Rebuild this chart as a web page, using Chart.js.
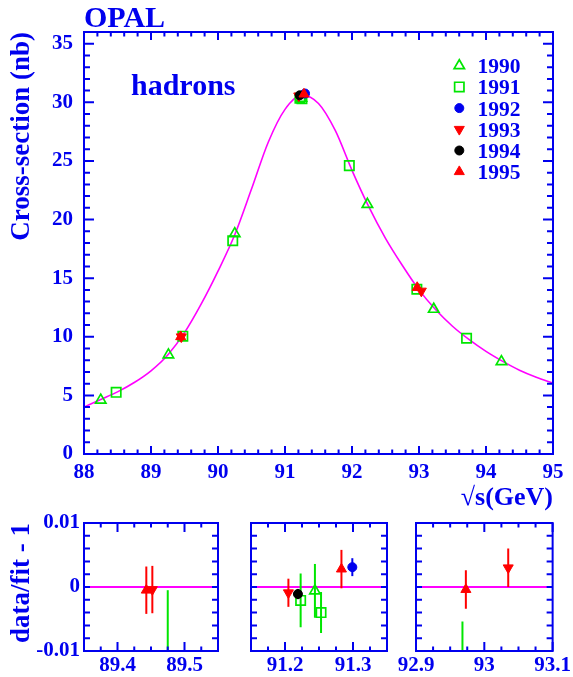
<!DOCTYPE html>
<html>
<head>
<meta charset="utf-8">
<script src="https://cdn.jsdelivr.net/npm/chart.js@4.4.0/dist/chart.umd.min.js"></script>
<style>
  html, body { margin: 0; padding: 0; background: #fff; }
  #wrap { position: relative; width: 573px; height: 677px; overflow: hidden; }
  canvas { position: absolute; }
</style>
</head>
<body>
<div id="wrap">
  <canvas id="main" width="573" height="515" style="left:0;top:0"></canvas>
  <canvas id="pull1" width="240" height="172" style="left:0;top:505px"></canvas>
  <canvas id="pull2" width="185" height="172" style="left:225px;top:505px"></canvas>
  <canvas id="pull3" width="183" height="172" style="left:390px;top:505px"></canvas>
</div>
<script>
const BLUE = 'rgb(0, 0, 238)'
const GREEN = 'rgb(0, 230, 0)'
const RED = 'rgb(255, 0, 0)'
const BLACK = 'rgb(0, 0, 0)'
const MAGENTA = 'rgb(255, 0, 255)'
const FONT = "'Liberation Serif', 'Times New Roman', serif"

const years = ['1990', '1991', '1992', '1993', '1994', '1995']

// sqrt(s) in GeV and hadronic cross-section in nb, one list per year
const energy1990 = [88.25, 89.26, 90.25, 91.244, 92.23, 93.22, 94.23]
const sigma1990 = [4.6, 8.45, 18.8, 30.35, 21.3, 12.35, 7.88]
const energy1991 = [88.48, 89.475, 90.22, 91.223, 91.253, 91.96, 92.968, 93.71]
const sigma1991 = [5.26, 10.05, 18.2, 30.35, 30.3, 24.6, 14.05, 9.87]
const energy1992 = [91.299]
const sigma1992 = [30.75]
const energy1993 = [89.452, 91.205, 93.035]
const sigma1993 = [10.0, 30.55, 13.9]
const energy1994 = [91.219]
const sigma1994 = [30.6]
const energy1995 = [89.443, 91.283, 92.973]
const sigma1995 = [10.0, 30.7, 14.2]

// data/fit - 1 and its error (null = not inside one of the lower windows)
const ratio1990 = [null, null, null, -0.0006, null, null, null]
const ratioErr1990 = [null, null, null, 0.0042, null, null, null]
const ratio1991 = [null, -0.0145, null, -0.0021, -0.004, null, -0.015, null]
const ratioErr1991 = [null, 0.014, null, 0.0042, 0.0032, null, 0.0096, null]
const ratio1992 = [0.0031]
const ratioErr1992 = [0.0014]
const ratio1993 = [-0.0004, -0.0009, 0.003]
const ratioErr1993 = [0.0037, 0.0022, 0.003]
const ratio1994 = [-0.0011]
const ratioErr1994 = [0.0008]
const ratio1995 = [-0.0005, 0.0028, -0.0004]
const ratioErr1995 = [0.0037, 0.003, 0.003]

// fitted line shape
const fitEnergy = [88.0, 88.25, 88.5, 88.75, 89.0, 89.25, 89.5, 89.75, 90.0, 90.25, 90.5, 90.75,
  91.0, 91.25, 91.5, 91.75, 92.0, 92.25, 92.5, 92.75, 93.0, 93.25, 93.5, 93.75, 94.0, 94.25,
  94.5, 94.75, 95.0]
const fitSigma = [4.0, 4.65, 5.3, 6.1, 7.1, 8.45, 10.35, 12.8, 15.6, 18.7, 22.6, 26.6,
  29.4, 30.6, 29.9, 27.6, 24.2, 21.1, 18.4, 16.1, 14.0, 12.3, 10.9, 9.75, 8.75, 7.9,
  7.15, 6.55, 6.05]

// energy windows of the three lower panels
const pullWindows = [[89.35, 89.55], [91.15, 91.35], [92.9, 93.1]]

const yearData = {
  '1990': { e: energy1990, s: sigma1990, r: ratio1990, err: ratioErr1990 },
  '1991': { e: energy1991, s: sigma1991, r: ratio1991, err: ratioErr1991 },
  '1992': { e: energy1992, s: sigma1992, r: ratio1992, err: ratioErr1992 },
  '1993': { e: energy1993, s: sigma1993, r: ratio1993, err: ratioErr1993 },
  '1994': { e: energy1994, s: sigma1994, r: ratio1994, err: ratioErr1994 },
  '1995': { e: energy1995, s: sigma1995, r: ratio1995, err: ratioErr1995 },
}

const marks = {
  '1990': { color: GREEN, style: 'triangle', rotation: 0, radius: 6, open: true },
  '1991': { color: GREEN, style: 'rect', rotation: 0, radius: 6.6, open: true },
  '1992': { color: BLUE, style: 'circle', rotation: 0, radius: 4.5, open: false },
  '1993': { color: RED, style: 'triangle', rotation: 180, radius: 5.8, open: false },
  '1994': { color: BLACK, style: 'circle', rotation: 0, radius: 4.5, open: false },
  '1995': { color: RED, style: 'triangle', rotation: 0, radius: 5.8, open: false },
}

const near = (v, step) => Math.abs(v / step - Math.round(v / step)) < 1e-6
const boldFont = (size) => ({ family: FONT, size: size, weight: 'bold' })

function markerDataset(year, points) {
  const m = marks[year]
  return {
    label: year,
    data: points,
    showLine: false,
    pointStyle: m.style,
    rotation: m.rotation,
    pointRadius: m.radius,
    pointHoverRadius: m.radius,
    pointBorderWidth: m.open ? 1.7 : 1,
    pointBorderColor: m.color,
    pointBackgroundColor: m.open ? 'rgba(0,0,0,0)' : m.color,
  }
}

// frame with inward tick marks on all four sides
const frameTicks = {
  id: 'frameTicks',
  afterDatasetsDraw(chart, args, opts) {
    const { ctx, chartArea: a, scales } = chart
    ctx.save()
    ctx.strokeStyle = BLUE
    ctx.lineWidth = 2
    ctx.beginPath()
    scales.x.ticks.forEach((t) => {
      const px = scales.x.getPixelForValue(t.value)
      const len = t.label !== '' ? opts.xMajor : opts.xMinor
      ctx.moveTo(px, a.bottom)
      ctx.lineTo(px, a.bottom - len)
      ctx.moveTo(px, a.top)
      ctx.lineTo(px, a.top + len)
    })
    scales.y.ticks.forEach((t) => {
      const py = scales.y.getPixelForValue(t.value)
      const len = near(t.value, opts.yMajorStep) ? opts.yMajor : opts.yMinor
      ctx.moveTo(a.left, py)
      ctx.lineTo(a.left + len, py)
      ctx.moveTo(a.right, py)
      ctx.lineTo(a.right - len, py)
    })
    ctx.stroke()
    ctx.strokeRect(a.left, a.top, a.right - a.left, a.bottom - a.top)
    ctx.restore()
  },
}

// experiment name, process label and year legend
const annotations = {
  id: 'annotations',
  afterDraw(chart) {
    const ctx = chart.ctx
    ctx.save()
    ctx.fillStyle = BLUE
    ctx.textBaseline = 'alphabetic'
    ctx.font = `bold 30px ${FONT}`
    ctx.fillText('OPAL', 84, 27)
    ctx.fillText('hadrons', 131, 95)
    ctx.font = `bold 21.5px ${FONT}`
    years.forEach((year, i) => {
      const y = 65.7 + i * 21.2
      const m = marks[year]
      ctx.fillStyle = BLUE
      ctx.fillText(year, 477.5, y + 7.5)
      ctx.fillStyle = m.open ? 'rgba(0,0,0,0)' : m.color
      ctx.strokeStyle = m.color
      ctx.lineWidth = m.open ? 1.7 : 1
      Chart.helpers.drawPoint(ctx, { pointStyle: m.style, rotation: m.rotation, radius: m.radius, borderWidth: ctx.lineWidth }, 459.3, y)
    })
    ctx.restore()
  },
}

function mainChart() {
  const datasets = []
  years.slice().reverse().forEach((year) => {
    const d = yearData[year]
    datasets.push(markerDataset(year, d.e.map((e, i) => ({ x: e, y: d.s[i] }))))
  })
  datasets.push({
    label: 'fit',
    data: fitEnergy.map((e, i) => ({ x: e, y: fitSigma[i] })),
    showLine: true,
    borderColor: MAGENTA,
    borderWidth: 1.6,
    pointRadius: 0,
    cubicInterpolationMode: 'monotone',
  })

  new Chart(document.getElementById('main'), {
    type: 'scatter',
    data: { datasets: datasets },
    options: {
      responsive: false,
      animation: false,
      layout: { padding: { left: 0, right: 20, top: 32, bottom: 0 } },
      plugins: {
        legend: { display: false },
        tooltip: { enabled: false },
        frameTicks: { xMajor: 8, xMinor: 4.5, yMajor: 10, yMinor: 6, yMajorStep: 5 },
      },
      scales: {
        x: {
          type: 'linear',
          min: 88,
          max: 95,
          grid: { display: false, drawTicks: false },
          border: { display: false },
          ticks: {
            stepSize: 0.2,
            autoSkip: false,
            maxRotation: 0,
            padding: 6,
            color: BLUE,
            font: boldFont(21),
            callback: (v) => (near(v, 1) ? String(Math.round(v)) : ''),
          },
          title: { display: true, text: '√s(GeV)', align: 'end', color: BLUE, font: boldFont(26), padding: { top: 0, bottom: 1 } },
          afterFit: (s) => { s.height = 61 },
        },
        y: {
          type: 'linear',
          min: 0,
          max: 36,
          grid: { display: false, drawTicks: false },
          border: { display: false },
          ticks: {
            stepSize: 1,
            autoSkip: false,
            padding: 11,
            color: BLUE,
            font: boldFont(21),
            callback: (v) => (near(v, 5) ? String(Math.round(v)) : ''),
          },
          title: { display: true, text: 'Cross-section (nb)', align: 'end', color: BLUE, font: boldFont(27), padding: { top: 6, bottom: 0 } },
          afterFit: (s) => { s.width = 84 },
        },
      },
    },
    plugins: [frameTicks, annotations],
  })
}

function pullChart(id, win, withAxis, padding) {
  const markers = []
  const bars = []
  years.slice().reverse().forEach((year) => {
    const d = yearData[year]
    const pts = []
    const seg = []
    d.e.forEach((e, i) => {
      if (d.r[i] === null) return
      pts.push({ x: e, y: d.r[i] })
      seg.push({ x: e, y: d.r[i] - d.err[i] }, { x: e, y: d.r[i] + d.err[i] }, { x: e, y: null })
    })
    if (!pts.length) return
    markers.push(markerDataset(year, pts))
    bars.push({
      label: year + ' err',
      data: seg,
      showLine: true,
      spanGaps: false,
      borderColor: marks[year].color,
      borderWidth: 2,
      pointRadius: 0,
      clip: 0,
    })
  })
  const zero = {
    label: 'fit',
    data: [{ x: win[0], y: 0 }, { x: win[1], y: 0 }],
    showLine: true,
    borderColor: MAGENTA,
    borderWidth: 2,
    pointRadius: 0,
  }

  const yAxis = {
    type: 'linear',
    min: -0.01,
    max: 0.01,
    grid: { display: false, drawTicks: false },
    border: { display: false },
    ticks: {
      display: withAxis,
      stepSize: 0.002,
      autoSkip: false,
      padding: 4,
      color: BLUE,
      font: boldFont(21),
      callback: (v) => {
        if (Math.abs(v) < 1e-9) return '0'
        if (Math.abs(Math.abs(v) - 0.01) < 1e-9) return v > 0 ? '0.01' : '-0.01'
        return ''
      },
    },
    title: { display: withAxis, text: 'data/fit - 1', align: 'end', color: BLUE, font: boldFont(27), padding: { top: 6, bottom: 0 } },
    afterFit: (s) => { s.width = withAxis ? 84 : 0 },
  }

  new Chart(document.getElementById(id), {
    type: 'scatter',
    data: { datasets: markers.concat(bars, [zero]) },
    options: {
      responsive: false,
      animation: false,
      layout: { padding: padding },
      plugins: {
        legend: { display: false },
        tooltip: { enabled: false },
        frameTicks: { xMajor: 9, xMinor: 4.5, yMajor: 6, yMinor: 6, yMajorStep: 0.01 },
      },
      scales: {
        x: {
          type: 'linear',
          min: win[0],
          max: win[1],
          grid: { display: false, drawTicks: false },
          border: { display: false },
          ticks: {
            stepSize: 0.025,
            autoSkip: false,
            maxRotation: 0,
            padding: 2,
            color: BLUE,
            font: boldFont(21),
            callback: (v) => {
              if (!near(v, 0.1)) return ''
              return near(v, 1) ? String(Math.round(v)) : v.toFixed(1)
            },
          },
          afterFit: (s) => { s.height = 26 },
        },
        y: yAxis,
      },
    },
    plugins: [frameTicks],
  })
}

mainChart()
pullChart('pull1', pullWindows[0], true, { left: 0, right: 22, top: 18, bottom: 0 })
pullChart('pull2', pullWindows[1], false, { left: 26, right: 23, top: 18, bottom: 0 })
pullChart('pull3', pullWindows[2], false, { left: 26, right: 20, top: 18, bottom: 0 })
</script>
</body>
</html>
